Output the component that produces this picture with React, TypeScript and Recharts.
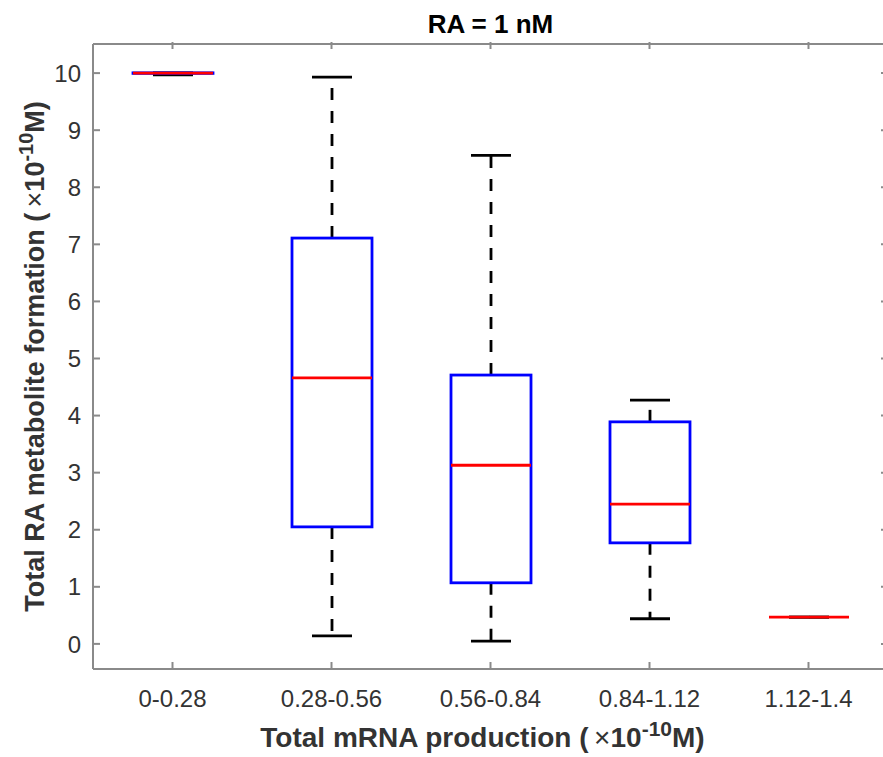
import { Bar, ComposedChart, Label, XAxis, YAxis } from "recharts";

// box statistics per mRNA production bin (x10^-10 M)
const categories = ["0-0.28", "0.28-0.56", "0.56-0.84", "0.84-1.12", "1.12-1.4"];
const lowerWhisker = [9.97, 0.14, 0.05, 0.44, 0.47];
const lowerQuartile = [9.995, 2.05, 1.07, 1.77, 0.47];
const medians = [10.0, 4.66, 3.13, 2.45, 0.47];
const upperQuartile = [10.005, 7.11, 4.71, 3.89, 0.47];
const upperWhisker = [10.005, 9.93, 8.56, 4.27, 0.47];
const yTicks = [0, 1, 2, 3, 4, 5, 6, 7, 8, 9, 10];

const data = categories.map((name, i) => ({
    name,
    range: [lowerWhisker[i], upperWhisker[i]],
    q1: lowerQuartile[i],
    median: medians[i],
    q3: upperQuartile[i],
}));

const AXIS = "#8a8a8a";
const TEXT = "#333";
const FONT = "'Liberation Sans', Arial, Helvetica, sans-serif";
const TICK_LEN = 7;

function BoxShape(props: any) {
    const { x, y, width, height, payload } = props;
    const lo = payload.range[0];
    const hi = payload.range[1];
    const span = hi - lo;
    const toY = (v: number) => (span > 0 ? y + (height * (hi - v)) / span : y);
    const cx = x + width / 2;
    const cap = width / 4;
    const yq1 = toY(payload.q1);
    const yq3 = toY(payload.q3);
    const ymed = toY(payload.median);
    const ylo = toY(lo);
    const yhi = toY(hi);
    return (
        <g>
            <line x1={cx} x2={cx} y1={yq3} y2={yhi} stroke="#000" strokeWidth={2.8} strokeDasharray="12 11" />
            <line x1={cx} x2={cx} y1={yq1} y2={ylo} stroke="#000" strokeWidth={2.8} strokeDasharray="12 11" />
            <line x1={cx - cap} x2={cx + cap} y1={yhi} y2={yhi} stroke="#000" strokeWidth={2.8} />
            <line x1={cx - cap} x2={cx + cap} y1={ylo} y2={ylo} stroke="#000" strokeWidth={2.8} />
            <rect x={x} y={yq3} width={width} height={Math.max(yq1 - yq3, 0)} fill="none" stroke="#0000ff" strokeWidth={2.8} />
            <line x1={x} x2={x + width} y1={ymed} y2={ymed} stroke="#ff0000" strokeWidth={2.8} />
        </g>
    );
}

function LeftTick(props: any) {
    const { x, y, payload } = props;
    return (
        <g>
            <line x1={x + 12} x2={x + 12 + TICK_LEN} y1={y} y2={y} stroke={AXIS} strokeWidth={2} />
            <text x={x} y={y} dy="0.36em" textAnchor="end" fontSize={24} fontFamily={FONT} fill={TEXT}>
                {payload.value}
            </text>
        </g>
    );
}

function RightTick(props: any) {
    const { x, y } = props;
    return <line x1={x} x2={x - TICK_LEN} y1={y} y2={y} stroke={AXIS} strokeWidth={2} />;
}

function BottomTick(props: any) {
    const { x, y, payload } = props;
    return (
        <g>
            <line x1={x} x2={x} y1={y} y2={y - TICK_LEN} stroke={AXIS} strokeWidth={2} />
            <text x={x} y={y + 38} textAnchor="middle" fontSize={24} fontFamily={FONT} fill={TEXT}>
                {payload.value}
            </text>
        </g>
    );
}

function TopTick(props: any) {
    const { x, y } = props;
    return <line x1={x} x2={x} y1={y} y2={y + TICK_LEN} stroke={AXIS} strokeWidth={2} />;
}

export default function App() {
    return (
        <div style={{ position: "absolute", left: 0, top: 0, width: 883, height: 757, overflow: "hidden", background: "#fff" }}>
            <div
                style={{
                    position: "absolute",
                    left: 93,
                    top: 11,
                    width: 795,
                    textAlign: "center",
                    fontFamily: FONT,
                    fontSize: 26,
                    lineHeight: "26px",
                    fontWeight: "bold",
                    color: "#000",
                }}
            >
                RA = 1 nM
            </div>
            <ComposedChart width={900} height={757} data={data} margin={{ top: 43, right: 0, bottom: 0, left: 0 }}>
                <XAxis
                    dataKey="name"
                    height={88}
                    tickSize={0}
                    tickMargin={0}
                    tick={<BottomTick />}
                    axisLine={{ stroke: AXIS, strokeWidth: 2 }}
                    interval={0}
                >
                    <Label
                        content={(p: any) => {
                            const vb = p.viewBox;
                            return (
                                <text x={vb.x + vb.width / 2 - 8} y={vb.y + 78} textAnchor="middle" fontSize={28} fontWeight="bold" fontFamily={FONT} fill={TEXT}>
                                    Total mRNA production (<tspan fontWeight="normal">{"\u2009×"}</tspan>10
                                    <tspan dy={-11} fontSize={21}>-10</tspan>
                                    <tspan dy={11}>M)</tspan>
                                </text>
                            );
                        }}
                    />
                </XAxis>
                <XAxis
                    xAxisId="top"
                    dataKey="name"
                    orientation="top"
                    height={1}
                    tickSize={0}
                    tick={<TopTick />}
                    axisLine={{ stroke: AXIS, strokeWidth: 2 }}
                    interval={0}
                />
                <YAxis
                    type="number"
                    domain={[-0.44, 10.51]}
                    allowDataOverflow
                    ticks={yTicks}
                    width={93}
                    tickSize={0}
                    tickMargin={12}
                    tick={<LeftTick />}
                    axisLine={{ stroke: AXIS, strokeWidth: 2 }}
                >
                    <Label
                        content={(p: any) => {
                            const vb = p.viewBox;
                            const cx = 44;
                            const cy = vb.y + vb.height / 2;
                            return (
                                <text x={cx} y={cy} transform={`rotate(-90 ${cx} ${cy})`} textAnchor="middle" fontSize={27} fontWeight="bold" fontFamily={FONT} fill={TEXT}>
                                    Total RA metabolite formation (<tspan fontWeight="normal">{"\u2009×"}</tspan>10
                                    <tspan dy={-11} fontSize={20}>-10</tspan>
                                    <tspan dy={11}>M)</tspan>
                                </text>
                            );
                        }}
                    />
                </YAxis>
                <YAxis
                    yAxisId="right"
                    orientation="right"
                    type="number"
                    domain={[-0.44, 10.51]}
                    allowDataOverflow
                    ticks={yTicks}
                    width={12}
                    tickSize={0}
                    tickMargin={0}
                    tick={<RightTick />}
                    axisLine={{ stroke: AXIS, strokeWidth: 2 }}
                />
                <Bar dataKey="range" barSize={80} shape={<BoxShape />} isAnimationActive={false} />
            </ComposedChart>
        </div>
    );
}
